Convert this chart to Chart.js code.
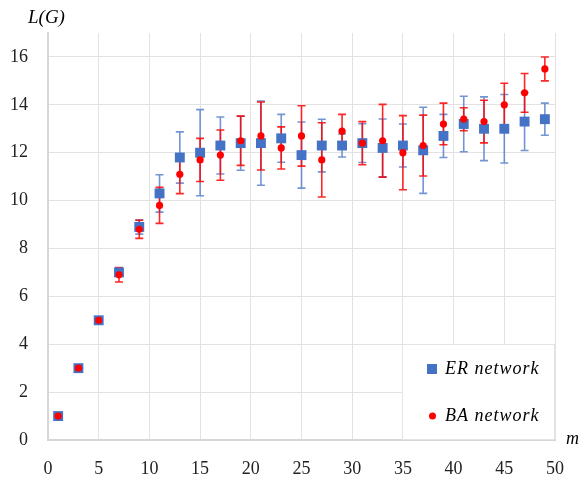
<!DOCTYPE html>
<html>
<head>
<meta charset="utf-8">
<script src="https://cdn.jsdelivr.net/npm/chart.js@4.4.1/dist/chart.umd.min.js"></script>
<style>
  html, body { margin: 0; padding: 0; background: #fff; }
  #wrap { width: 582px; height: 478px; }
</style>
</head>
<body>
<div id="wrap"><canvas id="chart" width="582" height="478"></canvas></div>
<script>
// m values on the x axis
const mValues = [1, 3, 5, 7, 9, 11, 13, 15, 17, 19, 21, 23, 25, 27, 29, 31, 33, 35, 37, 39, 41, 43, 45, 47, 49];

// L(G) for ER networks, with standard deviation
const erMean = [1.0, 3.0, 5.0, 7.0, 8.9, 10.3, 11.8, 12.0, 12.3, 12.4, 12.4, 12.6, 11.9, 12.3, 12.3, 12.4, 12.2, 12.3, 12.1, 12.7, 13.2, 13.0, 13.0, 13.3, 13.4];
const erSd   = [0, 0, 0, 0.15, 0.3, 0.78, 1.07, 1.8, 1.19, 1.13, 1.76, 1.0, 1.38, 1.1, 0.48, 0.81, 1.21, 0.9, 1.8, 0.9, 1.16, 1.33, 1.43, 1.21, 0.67];

// L(G) for BA networks, with standard deviation
const baMean = [1.0, 3.0, 5.0, 6.9, 8.8, 9.8, 11.1, 11.7, 11.9, 12.5, 12.7, 12.2, 12.7, 11.7, 12.9, 12.4, 12.5, 12.0, 12.3, 13.2, 13.4, 13.3, 14.0, 14.5, 15.5];
const baSd   = [0, 0, 0, 0.3, 0.38, 0.75, 0.81, 0.9, 1.05, 1.03, 1.42, 0.88, 1.26, 1.55, 0.7, 0.9, 1.52, 1.55, 1.27, 0.87, 0.48, 0.89, 0.9, 0.81, 0.5];

const seriesNames = ['ER network', 'BA network'];
const yLabel = 'L(G)';
const xLabel = 'm';

const serif = '"Liberation Serif", "DejaVu Serif", serif';

function toPoints(ys) {
    return mValues.map((m, i) => ({ x: m, y: ys[i] }));
}

// draws the vertical error bars of every dataset before the markers
const errorBars = {
    id: 'errorBars',
    beforeDatasetsDraw(chart) {
        const ctx = chart.ctx;
        const xs = chart.scales.x;
        const ys = chart.scales.y;
        ctx.save();
        chart.data.datasets.forEach(ds => {
            ctx.strokeStyle = ds.errorColor;
            ctx.lineWidth = 1.6;
            ds.data.forEach((p, i) => {
                const sd = ds.errors[i];
                if (!sd) return;
                const px = xs.getPixelForValue(p.x);
                const top = ys.getPixelForValue(p.y + sd);
                const bot = ys.getPixelForValue(p.y - sd);
                ctx.beginPath();
                ctx.moveTo(px, top);
                ctx.lineTo(px, bot);
                ctx.moveTo(px - 4, top);
                ctx.lineTo(px + 4, top);
                ctx.moveTo(px - 4, bot);
                ctx.lineTo(px + 4, bot);
                ctx.stroke();
            });
        });
        ctx.restore();
    }
};

// axis titles and the boxed legend in the lower right corner
const labels = {
    id: 'labels',
    afterDraw(chart) {
        const ctx = chart.ctx;
        const area = chart.chartArea;
        ctx.save();
        ctx.fillStyle = '#000';
        ctx.textBaseline = 'alphabetic';
        ctx.textAlign = 'left';
        ctx.font = 'italic 19px ' + serif;
        ctx.fillText(yLabel, 28, 23);
        ctx.font = 'italic 18px ' + serif;
        ctx.fillText(xLabel, area.right + 11, area.bottom + 4);

        // legend box
        const w = 153, h = 96;
        const lx = area.right - w, ly = area.bottom - h;
        ctx.fillStyle = '#fff';
        ctx.fillRect(lx, ly, w, h);
        ctx.strokeStyle = '#e4e4e4';
        ctx.lineWidth = 1;
        ctx.strokeRect(lx + 0.5, ly + 0.5, w - 1, h - 1);

        const ds = chart.data.datasets;
        ctx.fillStyle = ds[0].backgroundColor;
        ctx.fillRect(lx + 25, ly + 20, 10, 10);
        ctx.fillStyle = ds[1].backgroundColor;
        ctx.beginPath();
        ctx.arc(lx + 30.5, ly + 72, 3.5, 0, Math.PI * 2);
        ctx.fill();

        ctx.fillStyle = '#000';
        ctx.font = 'italic 18px ' + serif;
        ctx.letterSpacing = '1px';
        ctx.textBaseline = 'middle';
        ctx.fillText(seriesNames[0], lx + 43, ly + 25);
        ctx.fillText(seriesNames[1], lx + 43, ly + 72);
        ctx.restore();
    }
};

const ctx = document.getElementById('chart').getContext('2d');
const chart = new Chart(ctx, {
    type: 'scatter',
    data: {
        datasets: [{
            label: seriesNames[0],
            data: toPoints(erMean),
            errors: erSd,
            errorColor: 'rgba(68, 114, 196, 0.75)',
            backgroundColor: '#4472C4',
            borderWidth: 0,
            pointStyle: 'rect',
            pointRadius: 7,
            order: 2
        }, {
            label: seriesNames[1],
            data: toPoints(baMean),
            errors: baSd,
            errorColor: 'rgba(255, 0, 0, 0.85)',
            backgroundColor: '#FF0000',
            borderWidth: 0,
            pointStyle: 'circle',
            pointRadius: 3.6,
            order: 1
        }]
    },
    options: {
        responsive: false,
        animation: false,
        events: [],
        layout: {
            padding: { top: 33, right: 27, left: 0, bottom: 0 }
        },
        scales: {
            x: {
                type: 'linear',
                min: 0,
                max: 50,
                afterFit: s => { s.height = 38; },
                ticks: {
                    stepSize: 5,
                    padding: 18,
                    color: '#222',
                    font: { family: serif, size: 18 }
                },
                grid: {
                    color: '#e2e2e2',
                    drawTicks: false
                },
                border: { color: '#d6d6d6', width: 2 }
            },
            y: {
                min: 0,
                max: 17,
                afterFit: s => { s.width = 48; },
                ticks: {
                    stepSize: 1,
                    padding: 20,
                    color: '#222',
                    font: { family: serif, size: 18 },
                    callback: v => (v % 2 === 0 ? v : '')
                },
                grid: {
                    color: c => (c.tick && c.tick.value % 2 ? '#f2f2f2' : '#e2e2e2'),
                    drawTicks: false
                },
                border: { color: '#d6d6d6', width: 2 }
            }
        },
        plugins: {
            legend: { display: false },
            tooltip: { enabled: false }
        }
    },
    plugins: [errorBars, labels]
});
</script>
</body>
</html>
